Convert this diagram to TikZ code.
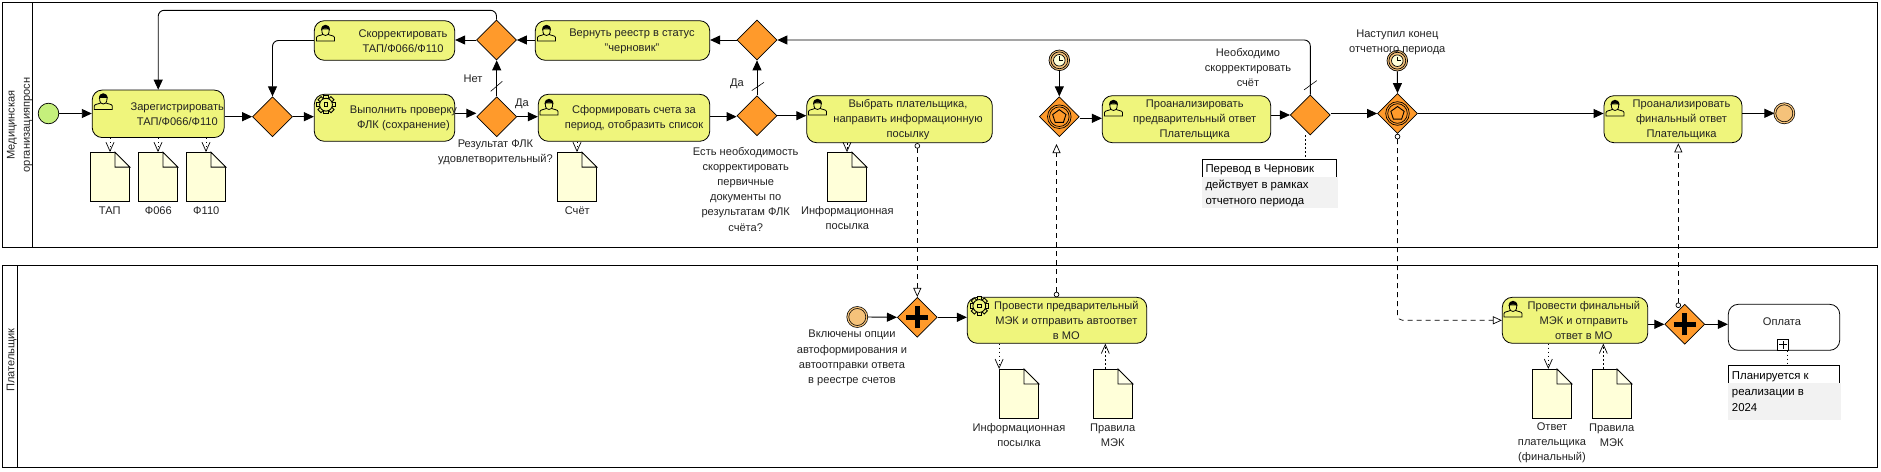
\documentclass[tikz,border=0pt]{standalone}
\usepackage{fontspec}
\setmainfont{Liberation Sans}
\usetikzlibrary{shapes,arrows.meta}
\definecolor{taskc}{HTML}{EFF57C}
\definecolor{gatec}{HTML}{FF9A2B}
\definecolor{docc}{HTML}{FFFFD9}
\definecolor{evc}{HTML}{F5C27A}
\definecolor{startc}{HTML}{C5F07C}
\definecolor{notec}{HTML}{F2F2F2}
\definecolor{txtc}{HTML}{222222}
\tikzstyle{task} = [rectangle, rounded corners=10pt, draw=black, fill=taskc, line width=0.8pt, inner sep=0pt]
\tikzstyle{gate} = [diamond, aspect=1, minimum width=40pt, minimum height=40pt, inner sep=0pt, draw=black, fill=gatec, line width=0.7pt]
\tikzstyle{doc} = [rectangle, minimum width=39pt, minimum height=49pt, inner sep=0pt, draw=black, fill=docc, line width=0.8pt]
\tikzstyle{startev} = [circle, minimum size=20.6pt, inner sep=0pt, draw=black, fill=startc, line width=0.7pt]
\tikzstyle{endev} = [circle, minimum size=19pt, inner sep=0pt, draw=black, double=evc, double distance=1.2pt, fill=evc, line width=0.7pt]
\tikzstyle{timer} = [circle, minimum size=20.6pt, inner sep=0pt, draw=black, fill=evc, line width=0.7pt]
\tikzstyle{txt} = [align=center, inner sep=0pt, text=txtc, font=\fontsize{11.1}{15.2}\selectfont]
\tikzstyle{notetxt} = [align=left, anchor=west, inner sep=0pt, text=black, font=\fontsize{11.4}{16}\selectfont]
\tikzstyle{note} = [rectangle, draw=black, fill=white, inner sep=0pt, line width=0.8pt]
\tikzstyle{flow} = [draw=black, line width=0.9pt, -{Triangle[length=10pt,width=9pt]}]
\tikzstyle{msg} = [draw=black, line width=0.7pt, dashed, dash pattern=on 5pt off 4pt, -{Triangle[open,fill=white,length=9pt,width=8pt,line width=0.7pt]}]
\tikzstyle{msgo} = [msg, {Circle[open,fill=white,length=5.5pt,line width=0.7pt]}-{Triangle[open,fill=white,length=9pt,width=8pt,line width=0.7pt]}]
\tikzstyle{assoc} = [draw=black, line width=0.7pt, dash pattern=on 1.5pt off 2.5pt]
\tikzstyle{assocv} = [assoc, -{Straight Barb[length=9pt,width=8pt,line width=0.7pt]}]
\tikzstyle{slash} = [draw=black, line width=0.6pt]
\newcommand{\docnode}[3]{
	\node[doc](#1) at (#2,#3){};
	\fill[white] ([xshift=-15,yshift=0.6]#1.north east)--([xshift=0.6,yshift=0.6]#1.north east)--([xshift=0.6,yshift=-15]#1.north east)--cycle;
	\draw[line width=0.8pt,fill=docc!60!white] ([xshift=-15]#1.north east)--([xshift=-15,yshift=-15]#1.north east)--([yshift=-15]#1.north east)--cycle;
}
\newcommand{\usericon}[2]{
	\begin{scope}[shift={(#1,#2)},line width=0.8pt]
		\draw (-9,9)--(-9,5.5) .. controls (-9,3.5) and (-4,3.5) .. (-3,2.5)--(3,2.5) .. controls (4,3.5) and (9,3.5) .. (9,5.5)--(9,9)--cycle;
		\draw[fill=taskc] (-3.8,-3) .. controls (-3.8,3) and (-1.5,3.5) .. (0,3.5) .. controls (1.5,3.5) and (3.8,3) .. (3.8,-3)--cycle;
		\fill (-4.4,-2) .. controls (-4.4,-9) and (4.4,-9) .. (4.4,-2) .. controls (2,-4) and (-2,-4) .. (-4.4,-2)--cycle;
	\end{scope}
}
\newcommand{\gearicon}[2]{
	\begin{scope}[shift={(#1,#2)},line width=0.9pt]
		\foreach \a in {0,45,...,315}
			\draw[fill=taskc,rotate=\a] (-2.2,-9.2) rectangle (2.2,-5);
		\draw[fill=taskc] (0,0) circle (6.4);
		\fill[taskc] (0,0) circle (5.6);
		\draw (-1.8,-1.8) rectangle (1.8,1.8);
	\end{scope}
}
\newcommand{\timericon}[1]{
	\draw[line width=0.7pt] (#1) circle (8.4);
	\draw[line width=0.7pt,fill=docc] (#1) circle (5.8);
	\draw[line width=1pt] ([yshift=4]#1.center)--(#1.center)--([xshift=3.5]#1.center);
}
\newcommand{\eventgate}[1]{
	\draw[line width=0.7pt] (#1) circle (11.8);
	\draw[line width=0.7pt] (#1) circle (9.8);
	\node[regular polygon, regular polygon sides=5, draw=black, line width=0.9pt, minimum size=14pt, inner sep=0pt] (#1p) at (#1){};
}
\newcommand{\plusgate}[1]{
	\draw[line width=5pt] ([xshift=-11]#1.center)--([xshift=11]#1.center);
	\draw[line width=5pt] ([yshift=-11]#1.center)--([yshift=11]#1.center);
}
\begin{document}
\begin{tikzpicture}[x=1pt,y=-1pt]
	\useasboundingbox (0,0) rectangle (1881,471);
	% lanes
	\node[rectangle,draw=black,line width=1pt,inner sep=0pt,minimum width=1875pt,minimum height=245.5pt](lane1) at (940,125.2){};
	\node[rectangle,draw=black,line width=1pt,inner sep=0pt,minimum width=1875pt,minimum height=202pt](lane2) at (940,366){};
	\draw[line width=1pt] (32.5,2.5)--(32.5,248);
	\draw[line width=1pt] (17.3,265)--(17.3,467);
	\node[txt,rotate=90](lane1t) at (19.5,125){Медицинская\\организацияпросн};
	\node[txt,rotate=90](lane2t) at (11.7,360){Плательщик};
	% tasks
	\node[task,minimum width=132pt,minimum height=47.5pt](t1) at (158.2,113.8){};
	\node[txt](t1x) at (177.3,114){Зарегистрировать\\ТАП/Ф066/Ф110};
	\node[task,minimum width=140.4pt,minimum height=47pt](t2) at (384.5,117.8){};
	\node[txt](t2x) at (403.5,118){Выполнить проверку\\ФЛК (сохранение)};
	\node[task,minimum width=140.4pt,minimum height=39.6pt](t3) at (384.5,40.5){};
	\node[txt](t3x) at (403,41){Скорректировать\\ТАП/Ф066/Ф110};
	\node[task,minimum width=171.4pt,minimum height=47pt](t4) at (624,117.8){};
	\node[txt](t4x) at (634,118){Сформировать счета за\\период, отобразить список};
	\node[task,minimum width=174.4pt,minimum height=39.6pt](t5) at (622.5,40.5){};
	\node[txt](t5x) at (632,41){Вернуть реестр в статус\\"черновик"};
	\node[task,minimum width=185.6pt,minimum height=47pt](t6) at (899.5,119.2){};
	\node[txt](t6x) at (908,119.5){Выбрать плательщика,\\направить информационную\\посылку};
	\node[task,minimum width=168.4pt,minimum height=47pt](t7) at (1186.5,119.2){};
	\node[txt](t7x) at (1194.7,119.5){Проанализировать\\предварительный ответ\\Плательщика};
	\node[task,minimum width=138pt,minimum height=47pt](t8) at (1673,119.2){};
	\node[txt](t8x) at (1681.5,119.5){Проанализировать\\финальный ответ\\Плательщика};
	\node[task,minimum width=179.4pt,minimum height=46pt](t9) at (1057,320.3){};
	\node[txt](t9x) at (1066.3,320.5){Провести предварительный\\МЭК и отправить автоответ\\в МО};
	\node[task,minimum width=145.4pt,minimum height=46pt](t10) at (1575,320.3){};
	\node[txt](t10x) at (1583.8,320.5){Провести финальный\\МЭК и отправить\\ответ в МО};
	\node[task,fill=white,minimum width=111.4pt,minimum height=46pt](t11) at (1784,327.3){};
	\node[txt](t11x) at (1782,322){Оплата};
	\node[rectangle,draw=black,fill=white,line width=0.8pt,inner sep=0pt,minimum width=11.4pt,minimum height=11pt](t11m) at (1783,344.5){};
	\draw[line width=0.6pt] ([xshift=-4]t11m.center)--([xshift=4]t11m.center);
	\draw[line width=0.6pt] ([yshift=-4]t11m.center)--([yshift=4]t11m.center);
	% icons
	\usericon{103.3}{100.5}
	\gearicon{326}{104.7}
	\usericon{325.5}{32}
	\usericon{549}{106}
	\usericon{546.5}{32}
	\usericon{817.5}{106}
	\usericon{1113.5}{107}
	\usericon{1615}{107}
	\gearicon{979.3}{306}
	\usericon{1513}{308}
	% gateways
	\node[gate](g1) at (272.5,116.7){};
	\node[gate](g2) at (496.7,116.7){};
	\node[gate](g3) at (496.5,40){};
	\node[gate](g4) at (757,115.7){};
	\node[gate](g5) at (757,40){};
	\node[gate](g6) at (1059.3,116.7){};
	\eventgate{g6}
	\node[gate](g7) at (1310.3,115){};
	\node[gate](g8) at (1397.5,113.5){};
	\eventgate{g8}
	\node[gate](g9) at (917.3,317.3){};
	\plusgate{g9}
	\node[gate](g10) at (1684.7,324.3){};
	\plusgate{g10}
	% events
	\node[startev](s1) at (48.5,113.5){};
	\node[timer](e1) at (1059.3,60.3){};
	\timericon{e1}
	\node[timer](e2) at (1397.3,60.7){};
	\timericon{e2}
	\node[endev](e3) at (1784.3,113.3){};
	\node[endev](e4) at (857.3,317){};
	% documents
	\docnode{d1}{110}{177}
	\docnode{d2}{158}{177}
	\docnode{d3}{206}{177}
	\docnode{d4}{577}{177}
	\docnode{d5}{847}{177}
	\docnode{d6}{1019}{393.8}
	\docnode{d7}{1113}{393.8}
	\docnode{d8}{1552}{393.8}
	\docnode{d9}{1612}{393.8}
	\node[txt](d1x) at (109.7,210.5){ТАП};
	\node[txt](d2x) at (158.3,210.5){Ф066};
	\node[txt](d3x) at (206.3,210.5){Ф110};
	\node[txt](d4x) at (577.3,210.5){Счёт};
	\node[txt](d5x) at (847.3,218){Информационная\\посылка};
	\node[txt](d6x) at (1019,435){Информационная\\посылка};
	\node[txt](d7x) at (1112.7,435){Правила\\МЭК};
	\node[txt](d8x) at (1552,442.5){Ответ\\плательщика\\(финальный)};
	\node[txt](d9x) at (1611.7,435){Правила\\МЭК};
	% labels
	\node[txt](l1) at (473,79){Нет};
	\node[txt](l2) at (522,104){Да};
	\node[txt](l3) at (495.5,152.5){Результат ФЛК\\удовлетворительный?};
	\node[txt](l4) at (737,84){Да};
	\node[txt](l5) at (745.7,189){Есть необходимость\\скорректировать\\первичные\\документы по\\результатам ФЛК\\счёта?};
	\node[txt](l6) at (1248,67.5){Необходимо\\скорректировать\\счёт};
	\node[txt](l7) at (1397.3,42){Наступил конец\\отчетного периода};
	\node[txt](l8) at (852,358){Включены опции\\автоформирования и\\автоотправки ответа\\в реестре счетов};
	% notes
	\node[note,minimum width=134.4pt,minimum height=47pt](n1) at (1269.5,182.8){};
	\fill[notec] (1201.5,177) rectangle (1337.5,208);
	\node[notetxt](n1x) at (1205.3,186){Перевод в Черновик\\действует в рамках\\отчетного периода};
	\node[note,minimum width=111.4pt,minimum height=53pt](n2) at (1784,391.8){};
	\fill[notec] (1727.5,383.3) rectangle (1840.5,420);
	\node[notetxt](n2x) at (1731.7,392){Планируется к\\реализации в\\2024};
	% flows
	\draw[flow] (s1)--(t1.west|-s1);
	\draw[flow] (t1.east|-g1)--(g1.west);
	\draw[flow] (g1.east)--(t2.west|-g1);
	\draw[flow] ([yshift=4.5]t2.east)--([yshift=3.4]g2.west);
	\draw[flow] (g2.east)--(t4.west|-g2);
	\draw[flow] (g2.north)--(g3.south-|g2.north);
	\draw[flow] (g3.west)--(t3.east|-g3);
	\draw[flow,rounded corners=6pt] (t3.west)-|(g1.north);
	\coordinate (c1) at (158.2,10.3);
	\draw[flow,rounded corners=6pt] (g3.north)|-(c1)--(t1.north);
	\draw[flow] (t4.east|-g1)--([yshift=-1]g4.west);
	\draw[flow] (t5.west|-g3)--(g3.east);
	\draw[flow] (g4.east)--(t6.west|-g4);
	\draw[flow] (g4.north)--(g5.south);
	\draw[flow] (g5.west)--(t5.east|-g5);
	\draw[flow,rounded corners=6pt] (g7.north)|-(g5.east);
	\draw[flow] (e1.south)--(g6.north);
	\draw[flow] ([yshift=-1.6]g6.east)--(t7.west|-118.3,118.3);
	\draw[flow] (t7.east|-g7)--(g7.west);
	\draw[flow] (g7.east|-g8)--(g8.west);
	\draw[flow] (e2.south)--(g8.north);
	\draw[flow] (g8.east)--(t8.west|-g8);
	\draw[flow] (t8.east|-e3)--(e3.west);
	\draw[flow] (e4.east)--(g9.west);
	\draw[flow] (g9.east)--(t9.west|-g9);
	\draw[flow] (t10.east|-g10)--(g10.west);
	\draw[flow] (g10.east)--(t11.west|-g10);
	% message flows
	\draw[msgo] (t6.south-|g9.north)--(g9.north);
	\draw[msgo] (1056.5,297.3)--(1056.5,144);
	\draw[msgo,rounded corners=5pt] (g8.south)|-(t10.west);
	\draw[msgo] (1678.3,308)--(1678.3,143.3);
	% associations
	\draw[assocv] (d1.north|-t1.south)--(d1.north);
	\draw[assocv] (d2.north|-t1.south)--(d2.north);
	\draw[assocv] (d3.north|-t1.south)--(d3.north);
	\draw[assocv] (d4.north|-t4.south)--(d4.north);
	\draw[assocv] (d5.north|-t6.south)--(d5.north);
	\draw[assocv] (d6.north west|-t9.south)--(d6.north west);
	\draw[assocv] ([xshift=-7.7]d7.north)--([xshift=-7.7]d7.north|-t9.south);
	\draw[assocv] ([xshift=-3.7]d8.north|-t10.south)--([xshift=-3.7]d8.north);
	\draw[assocv] ([xshift=-8.7]d9.north)--([xshift=-8.7]d9.north|-t10.south);
	\draw[assoc] ([xshift=-5]g7.south)--([xshift=-5]g7.south|-n1.north);
	\draw[assoc] ([xshift=3.3]t11.south)--([xshift=3.3]t11.south|-n2.north);
	% slashes
	\draw[slash] ([xshift=-6,yshift=5]g2.north)--([xshift=5.6,yshift=15]g2.north);
	\draw[slash] ([xshift=-5.3,yshift=4.7]g4.north)--([xshift=7,yshift=13]g4.north);
	\draw[slash] ([xshift=-6.3,yshift=4.7]g7.north)--([xshift=6.4,yshift=14]g7.north);
\end{tikzpicture}
\end{document}
